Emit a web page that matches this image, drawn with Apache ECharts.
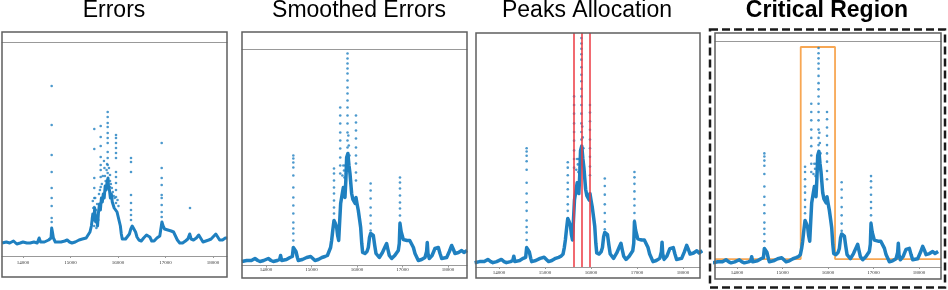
<!DOCTYPE html>
<html>
<head>
<meta charset="utf-8">
<script src="https://cdn.jsdelivr.net/npm/echarts@6/dist/echarts.min.js"></script>
<style>
  html, body { margin: 0; padding: 0; background: #fff; }
  #chart { width: 948px; height: 290px; }
</style>
</head>
<body>
<div id="chart"></div>
<script>
// --- data (x = sample index, y = error in arbitrary units) ---
const panelTitles = ['Errors', 'Smoothed Errors', 'Peaks Allocation', 'Critical Region']
const tickValues = [14000, 15000, 16000, 17000, 18000]

// raw errors: dense trace + isolated spike points
const errLine = [
  [13560,13],[13650,14],[13720,13],[13800,15],[13870,12],[13940,13],[14000,14],[14080,13],[14150,13],
  [14230,14],[14300,13],[14340,18],[14370,14],[14450,14],[14540,16],[14590,18],[14604,28],[14620,24],
  [14640,18],[14680,14],[14720,13],[14800,14],[14880,15],[14930,16],[14980,14],[15030,13],[15100,14],
  [15180,16],[15250,17],[15330,18],[15370,19],[15410,24],[15440,30],[15470,42],[15490,36],[15510,48],
  [15530,34],[15550,40],[15570,30],[15590,44],[15610,52],[15630,46],[15650,58],[15670,54],[15690,62],
  [15710,58],[15730,70],[15750,66],[15770,74],[15790,78],[15800,70],[15820,66],[15840,58],[15860,62],
  [15880,54],[15900,52],[15920,48],[15940,50],[15960,46],[15980,44],[16000,40],[16030,38],[16050,30],
  [16070,22],[16090,17],[16120,16],[16160,17],[16200,19],[16240,22],[16270,27],[16300,30],[16340,28],
  [16370,24],[16400,19],[16440,16],[16490,15],[16540,18],[16600,21],[16640,23],[16670,19],[16710,15],
  [16760,15],[16820,18],[16880,20],[16910,22],[16925,34],[16950,30],[16980,27],[17050,26],[17120,25],
  [17170,24],[17210,20],[17250,16],[17300,13],[17360,13],[17420,15],[17470,17],[17510,22],[17540,17],
  [17590,16],[17650,18],[17700,21],[17740,19],[17790,14],[17850,15],[17910,16],[17960,17],[18000,18],
  [18060,22],[18090,20],[18140,16],[18200,16],[18260,18],[18300,18]
]
const errSpikeX = [14604, 15501, 15636, 15783, 15832, 15958, 16274, 16920, 17516]
const errSpikeY = [
  [170,131,101,84,68,58,50,38,34],
  [127,107,78,68,58,49,43,36],
  [130,119,110,99,91,86,79,69],
  [144,139,133,129,123,118,113,104,98,91,83],
  [81,75,69],
  [121,118,113,108,103,98,84,79,73,66,59,53],
  [98,94,84,61,53,46,41,36],
  [113,88,78,71,61,58,51,44,39],
  [48]
]
// noisy points around the main burst
const errNoise = [
  [15470,55],[15480,48],[15520,58],[15540,46],[15560,52],[15575,38],[15600,62],[15620,66],
  [15660,72],[15680,80],[15705,95],[15715,88],[15725,80],[15740,75],[15760,86],[15770,92],
  [15810,88],[15850,72],[15870,68],[15890,64],[15910,60],[15930,58],[15990,56],[16010,50],
  [15455,38],[15500,30],[15545,28],[15585,36]
]

// smoothed errors, shared by panels 2-4
const smoothLine = [
  [13470,4],[13576,5],[13680,5],[13758,7],[13820,5],[13868,4],[13950,5],[14051,7],[14110,5],[14161,4],
  [14250,5],[14300,6],[14322,10],[14345,5],[14381,5],[14450,6],[14527,8],[14580,9],[14601,18],[14630,16],
  [14659,14],[14690,8],[14710,5],[14800,6],[14894,8],[14982,9],[15030,7],[15077,5],[15150,6],[15230,8],
  [15297,9],[15350,10],[15392,12],[15420,18],[15443,25],[15470,36],[15495,45],[15525,42],[15554,38],
  [15575,30],[15598,25],[15615,40],[15641,62],[15670,70],[15700,78],[15736,68],[15755,85],[15773,108],
  [15800,112],[15824,100],[15846,92],[15883,72],[15910,66],[15934,65],[15960,62],[15978,68],[16000,62],
  [16029,55],[16060,45],[16081,38],[16105,22],[16125,13],[16176,12],[16220,14],[16249,18],[16275,28],
  [16300,32],[16330,31],[16359,30],[16390,20],[16418,12],[16491,8],[16560,13],[16620,19],[16652,22],
  [16680,16],[16711,10],[16762,7],[16830,10],[16908,15],[16930,22],[16945,42],[16970,34],[17018,26],
  [17100,25],[17160,25],[17202,25],[17240,18],[17275,12],[17348,5],[17420,6],[17495,8],[17530,14],
  [17545,23],[17560,12],[17589,7],[17650,10],[17714,17],[17750,17],[17788,18],[17825,12],[17861,7],
  [17971,8],[18030,14],[18081,20],[18120,16],[18154,12],[18230,13],[18301,15],[18350,13],[18420,15]
]
const smoothSpikeX = [14601, 15495, 15632, 15792, 15978, 16300, 16945]
const smoothSpikeY = [
  [110,107,103,98,90,78,68,60,52,43,37,32,25],
  [97,92,85,78,72,65,58,52],
  [158,150,142,133,125,117,108,100,92],
  [212,207,202,197,192,185,178,172,165,158,150,142,133,125,118],
  [150,143,135,127,118,110,102,93,85],
  [82,75,67,58,50,42,35],
  [88,83,77,70,63,57,50,43,35,28]
]
const smoothNoise = [
  [15680,90],[15700,100],[15715,95],[15725,88],[15740,100],[15760,92],[15810,130],[15820,120],[15835,110]
]

// peaks found in panel 3 and the critical window of panel 4
const peakX = [15632, 15792, 15978]
const critStart = 15400
const critEnd = 16154
const critLow = 7.7
const critHigh = 213

// --- layout of the four framed panels ---
const panels = [
  { frame: [2, 32, 225, 245], grid: [2, 42, 225, 214], xr: [13558, 18295], yMax: 214, topLine: true, margin: 4 },
  { frame: [242, 32, 225, 246], grid: [242, 49, 225, 216.5], xr: [13473, 18418], yMax: 216.5, topLine: true, margin: 2 },
  { frame: [476, 33, 224, 245], grid: [476, 33, 224, 234], xr: [13500, 18370], yMax: 216.7, topLine: false, margin: 3.5 },
  { frame: [715, 33, 226, 246], grid: [715, 41, 226, 226], xr: [13516, 18483], yMax: 218.8, topLine: true, margin: 3 }
]
const titleX = [114, 359, 587, 827]
const blue = '#1f80c0'

function spikePoints (xs, ys) {
  const out = []
  xs.forEach((x, i) => ys[i].forEach(y => out.push([x, y])))
  return out
}
const errDots = spikePoints(errSpikeX, errSpikeY).concat(errNoise)
const smoothDots = spikePoints(smoothSpikeX, smoothSpikeY).concat(smoothNoise)
const critLine = [
  [panels[3].xr[0], critLow], [critStart, critLow], [critStart, critHigh],
  [critEnd, critHigh], [critEnd, critLow], [panels[3].xr[1], critLow]
]

const grids = []
const xAxes = []
const yAxes = []
const series = []
const graphics = []

panels.forEach((p, i) => {
  grids.push({ left: p.grid[0], top: p.grid[1], width: p.grid[2], height: p.grid[3] })
  xAxes.push({
    type: 'value', gridIndex: i, min: p.xr[0], max: p.xr[1],
    axisLine: { onZero: false, lineStyle: { color: '#999', width: 1 } },
    axisTick: { show: true, length: 2, customValues: tickValues, lineStyle: { color: '#999' } },
    axisLabel: {
      customValues: tickValues, fontSize: 5, color: '#333', margin: p.margin,
      fontFamily: 'Liberation Serif', formatter: v => String(v)
    },
    splitLine: { show: false }
  })
  yAxes.push({ type: 'value', gridIndex: i, min: 0, max: p.yMax, show: false })
  graphics.push({
    type: 'rect', shape: { x: p.frame[0], y: p.frame[1], width: p.frame[2], height: p.frame[3] },
    style: { fill: null, stroke: '#5f5f5f', lineWidth: 1.5 }, z: 100, silent: true
  })
  graphics.push({
    type: 'text', x: titleX[i], y: 10.5,
    style: {
      text: panelTitles[i], fill: '#000', fontSize: 23,
      fontFamily: 'Liberation Sans, Arial, sans-serif',
      fontWeight: i === 3 ? 'bold' : 'normal', align: 'center', verticalAlign: 'middle'
    }
  })
})
// thin top rule of panels 1, 2, 4
panels.forEach((p, i) => {
  if (!p.topLine) return
  xAxes.push({
    type: 'value', gridIndex: i, position: 'top', min: p.xr[0], max: p.xr[1],
    axisLine: { onZero: false, lineStyle: { color: '#999', width: 1 } },
    axisTick: { show: false }, axisLabel: { show: false }, splitLine: { show: false }
  })
})

// panel 4 critical window (drawn beneath the curve)
series.push({
  type: 'line', xAxisIndex: 3, yAxisIndex: 3, data: critLine, showSymbol: false, silent: true,
  lineStyle: { color: '#f7a754', width: 1.8 }, z: 1
})

panels.forEach((p, i) => {
  const line = i === 0 ? errLine : smoothLine
  const dots = i === 0 ? errDots : smoothDots
  series.push({
    type: 'line', xAxisIndex: i, yAxisIndex: i, data: line, showSymbol: false, silent: true,
    lineStyle: { color: blue, width: i === 0 ? 3 : 3.5, join: 'round' }, z: 3
  })
  series.push({
    type: 'scatter', xAxisIndex: i, yAxisIndex: i, data: dots, symbolSize: 2.6, silent: true,
    itemStyle: { color: blue }, z: 3
  })
})

// panel 3 red peak markers
series.push({
  type: 'line', xAxisIndex: 2, yAxisIndex: 2, data: [], silent: true, z: 4,
  markLine: {
    symbol: 'none', silent: true, label: { show: false },
    lineStyle: { color: 'rgba(236,60,68,0.85)', width: 1.8, type: 'solid' },
    data: peakX.map(x => ({ xAxis: x }))
  }
})

// dashed highlight around the critical-region panel
graphics.push({
  type: 'rect', shape: { x: 710, y: 29.5, width: 235, height: 258 },
  style: { fill: null, stroke: '#1a1a1a', lineWidth: 2.5, lineDash: [8, 4] }, z: 100, silent: true
})

const chart = echarts.init(document.getElementById('chart'), null, { renderer: 'canvas' })
chart.setOption({
  animation: false,
  backgroundColor: '#fff',
  grid: grids,
  xAxis: xAxes,
  yAxis: yAxes,
  series: series,
  graphic: graphics
})
</script>
</body>
</html>
